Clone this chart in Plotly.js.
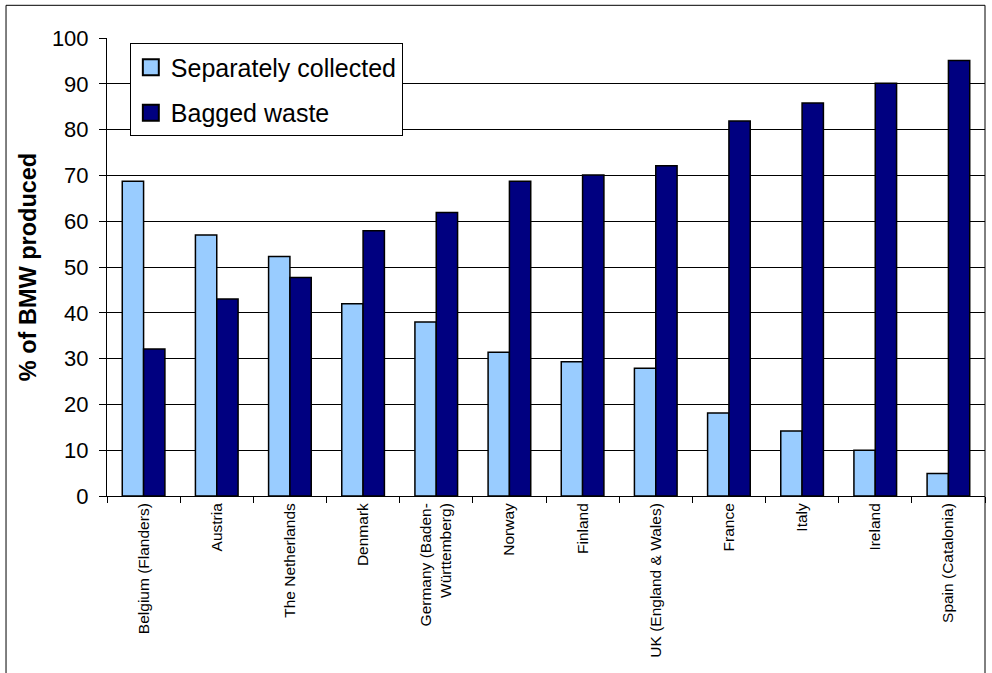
<!DOCTYPE html>
<html>
<head>
<meta charset="utf-8">
<script src="https://cdn.plot.ly/plotly-3.0.1.min.js"></script>
<style>
  html, body { margin: 0; padding: 0; background: #fff; }
  #chart { width: 992px; height: 673px; }
</style>
</head>
<body>
<div id="chart"></div>
<script>
// Share of biodegradable municipal waste (BMW) by collection route
const countries = [
  "Belgium (Flanders)", "Austria", "The Netherlands", "Denmark",
  "Germany (Baden-<br>Württemberg)", "Norway", "Finland", "UK (England & Wales)",
  "France", "Italy", "Ireland", "Spain (Catalonia)"
];
const separatelyCollected = [68.7, 57.0, 52.3, 42.0, 38.0, 31.4, 29.3, 27.9, 18.1, 14.2, 10.0, 4.9];
const baggedWaste        = [32.1, 43.0, 47.7, 57.9, 61.9, 68.7, 70.1, 72.1, 81.9, 85.8, 90.1, 95.1];
const yTicks = [0, 10, 20, 30, 40, 50, 60, 70, 80, 90, 100];

const FONT = "Arial, 'Liberation Sans', sans-serif";

const traces = [
  {
    type: "bar",
    name: "Separately collected",
    x: countries,
    y: separatelyCollected,
    legendgroup: "a",
    marker: { color: "#99CCFF", line: { color: "#000000", width: 1.5 } },
    hoverinfo: "x+y"
  },
  {
    type: "bar",
    name: "Bagged waste",
    x: countries,
    y: baggedWaste,
    legendgroup: "b",
    marker: { color: "#000080", line: { color: "#000000", width: 1.5 } },
    hoverinfo: "x+y"
  }
];

const layout = {
  width: 992,
  height: 673,
  margin: { l: 107, r: 7, t: 38, b: 177, pad: 0 },
  paper_bgcolor: "#ffffff",
  plot_bgcolor: "#ffffff",
  font: { family: FONT, color: "#000000" },
  barmode: "group",
  bargap: 0.417,
  bargroupgap: 0,
  showlegend: true,
  legend: {
    x: 0.026, y: 0.988, xanchor: "left", yanchor: "top",
    bgcolor: "#ffffff", bordercolor: "#000000", borderwidth: 1,
    font: { family: FONT, size: 25, color: "#000000" },
    traceorder: "grouped", tracegroupgap: 10,
    itemwidth: 30
  },
  xaxis: {
    type: "category",
    tickangle: -90,
    tickfont: { family: FONT, size: 15.5, color: "#000000" },
    showline: true, linecolor: "#000000", linewidth: 1,
    ticks: "outside", tickson: "boundaries", ticklen: 6, tickcolor: "#000000",
    showgrid: false,
    automargin: false
  },
  yaxis: {
    range: [0, 100],
    tickvals: yTicks,
    ticktext: yTicks.map(String),
    tickfont: { family: FONT, size: 22, color: "#000000" },
    showline: true, linecolor: "#000000", linewidth: 1,
    ticks: "outside", ticklen: 7, tickcolor: "#000000",
    ticklabelstandoff: 6,
    showgrid: true, gridcolor: "#000000", gridwidth: 1,
    zeroline: false,
    automargin: false,
    title: {
      text: "% of BMW produced",
      font: { family: FONT, size: 23.5, color: "#000000", weight: "bold" },
      standoff: 8
    }
  },
  shapes: [
    {
      type: "rect", xref: "paper", yref: "paper",
      x0: -0.115, x1: 1.0, y0: -0.6, y1: 1.0714,
      line: { color: "#000000", width: 1 },
      fillcolor: "rgba(0,0,0,0)",
      layer: "above"
    }
  ]
};

Plotly.newPlot("chart", traces, layout, { displayModeBar: false, staticPlot: true }).then(function (gd) {
  // enlarge the legend swatches to 16px squares, keeping their own offset
  gd.querySelectorAll(".legend .legendpoints path").forEach(function (p) {
    const t = p.getAttribute("transform") || "";
    p.setAttribute("transform", (t + " scale(1.33)").trim());
  });
});
</script>
</body>
</html>
